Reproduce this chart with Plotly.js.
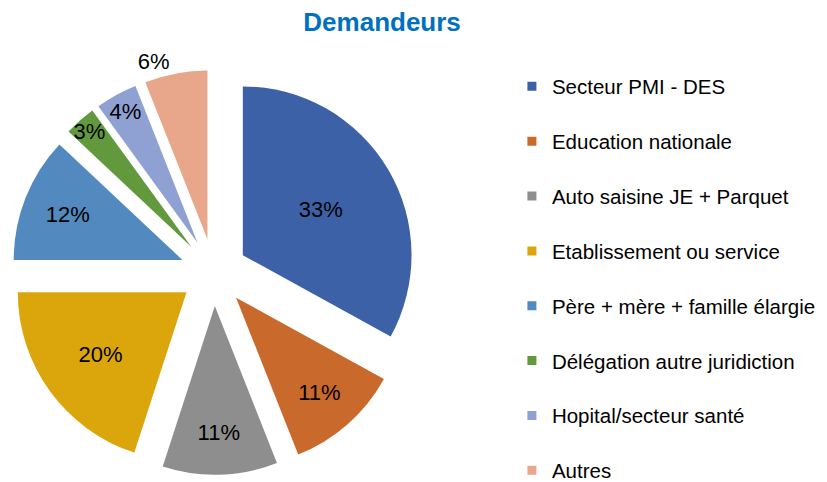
<!DOCTYPE html>
<html>
<head>
<meta charset="utf-8">
<script src="https://cdn.plot.ly/plotly-3.0.1.min.js"></script>
<style>html,body{margin:0;padding:0;background:#fff;}#chart{width:827px;height:482px;}</style>
</head>
<body>
<div id="chart"></div>
<script>
const categories = ["Secteur PMI - DES", "Education nationale", "Auto saisine JE + Parquet", "Etablissement ou service", "Père + mère + famille élargie", "Délégation autre juridiction", "Hopital/secteur santé", "Autres"];
const values = [33, 11, 11, 20, 12, 3, 4, 6];
const colors = ["#3C61A6", "#C9692B", "#8E8E8E", "#DBA50C", "#5289BE", "#63993D", "#8FA1D2", "#E8A68A"];
const textPositions = ["inside", "inside", "inside", "inside", "inside", "inside", "inside", "outside"];

const traces = [{
  type: "pie",
  labels: categories,
  values: values,
  sort: false,
  direction: "clockwise",
  rotation: 0,
  pull: 0.2,
  marker: {colors: colors, line: {width: 0}},
  textinfo: "percent",
  textposition: textPositions,
  insidetextorientation: "horizontal",
  textfont: {family: "Liberation Sans, Arial, sans-serif", size: 22, color: "#000"},
  outsidetextfont: {family: "Liberation Sans, Arial, sans-serif", size: 22, color: "#000"},
  domain: {x: [0.012, 0.505], y: [0.015, 0.855]},
  showlegend: false,
  hoverinfo: "label+percent"
}];

categories.forEach((c, i) => {
  traces.push({
    type: "scatter",
    mode: "markers",
    x: [null], y: [null],
    name: c,
    legendgroup: "g" + i,
    marker: {symbol: "square", size: 9, color: colors[i]},
    showlegend: true,
    hoverinfo: "skip"
  });
});

const layout = {
  width: 827, height: 482,
  margin: {l: 0, r: 0, t: 0, b: 0, autoexpand: false},
  paper_bgcolor: "#fff", plot_bgcolor: "#fff",
  title: {text: "<b>Demandeurs</b>", x: 0.462, xanchor: "center", y: 0.954, yanchor: "middle",
          font: {family: "Liberation Sans, Arial, sans-serif", size: 26, color: "#0070C0"}},
  xaxis: {visible: false, domain: [0.9, 0.91]},
  yaxis: {visible: false, domain: [0.9, 0.91]},
  uniformtext: {minsize: 22, mode: "show"},
  legend: {x: 0.619, y: 0.862, xanchor: "left", yanchor: "top", traceorder: "grouped",
           tracegroupgap: 25.2, itemwidth: 30,
           font: {family: "Liberation Sans, Arial, sans-serif", size: 20.5, color: "#000"},
           bgcolor: "rgba(0,0,0,0)"},
  showlegend: true
};

Plotly.newPlot("chart", traces, layout, {displayModeBar: false, staticPlot: true});
</script>
</body>
</html>
